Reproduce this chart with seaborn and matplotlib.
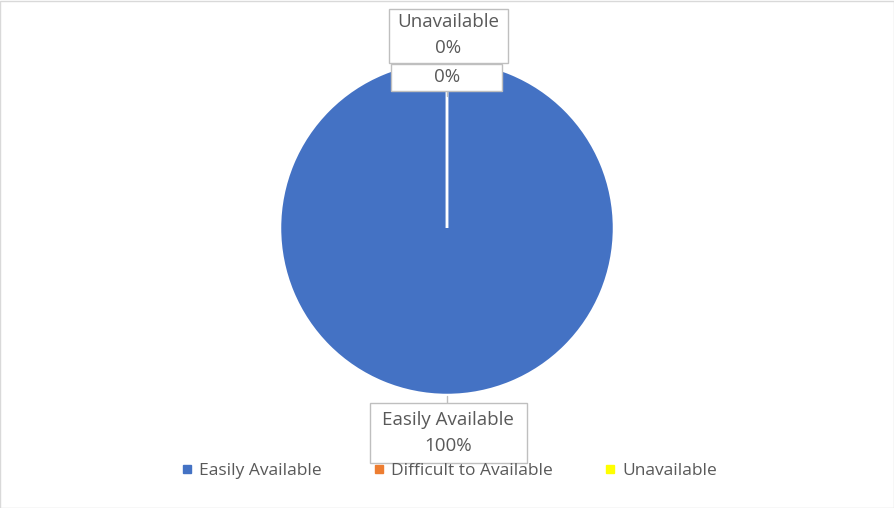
import matplotlib
matplotlib.use("Agg")
import matplotlib.pyplot as plt
import seaborn as sns
from matplotlib.lines import Line2D
from matplotlib.patches import Rectangle

# Data
categories = ["Easily Available", "Difficult to Available", "Unavailable"]
values = [100, 0, 0]
colors = ["#4472C4", "#ED7D31", "#FFFF00"]

sns.set_theme(style="white")
plt.rcParams["font.family"] = ["Open Sans", "DejaVu Sans"]

W, H = 895, 508
fig = plt.figure(figsize=(W / 100, H / 100), dpi=100)

# pie placement (pixels): center (447, 228), radius 167
cx, cy, r = 447, 228, 167
ax = fig.add_axes([(cx - r) / W, (H - cy - r) / H, 2 * r / W, 2 * r / H])
wedges, _ = ax.pie(values, colors=colors, startangle=90, counterclock=False,
                   wedgeprops=dict(edgecolor="white", linewidth=1.8))
ax.set_xlim(-1, 1)
ax.set_ylim(-1, 1)

total = sum(values)
pct = [f"{v / total:.0%}" for v in values]

text_color = "#595959"
edge = "#BFBFBF"


def fpx(x, y):
    # pixel (top-left origin) -> figure fraction
    return (x / W, 1 - y / H)


def label_box(x0, y0, x1, y1, text, tx, ty):
    fig.patches.append(Rectangle(fpx(x0, y1), (x1 - x0) / W, (y1 - y0) / H,
                                 transform=fig.transFigure, facecolor="white",
                                 edgecolor=edge, linewidth=1, zorder=3))
    fig.text(*fpx(tx, ty), text, ha="center", va="center", fontsize=13.5,
             color=text_color, linespacing=1.6, zorder=4)


def leader(x0, y0, x1, y1):
    fig.lines.append(Line2D([x0 / W, x1 / W], [1 - y0 / H, 1 - y1 / H],
                            transform=fig.transFigure, color=edge, lw=1, zorder=2))


# data labels
leader(447, 91, 447, 96)
leader(447, 396, 447, 404)
label_box(389, 9, 508, 63, f"{categories[2]}\n{pct[2]}", 448, 35)
label_box(391, 64, 502, 91, pct[1], 447, 77)
label_box(370, 403, 527, 463, f"{categories[0]}\n{pct[0]}", 448, 433)

# legend
handles = [Line2D([], [], marker="s", linestyle="none", markersize=6,
                  markerfacecolor=c, markeredgecolor=c) for c in colors]
fig.legend(handles, categories, loc="center", bbox_to_anchor=(0.5, 1 - 471 / H),
           ncol=3, frameon=False, fontsize=12.5, labelcolor=text_color,
           handletextpad=0.2, columnspacing=2.8, handlelength=1.0)

# chart border
fig.patches.append(Rectangle((0.5 / W, 0.5 / H), 1 - 1.5 / W, 1 - 1.5 / H,
                             transform=fig.transFigure, fill=False,
                             edgecolor="#D9D9D9", linewidth=1))

fig.savefig("out.png", dpi=100, facecolor="white")
